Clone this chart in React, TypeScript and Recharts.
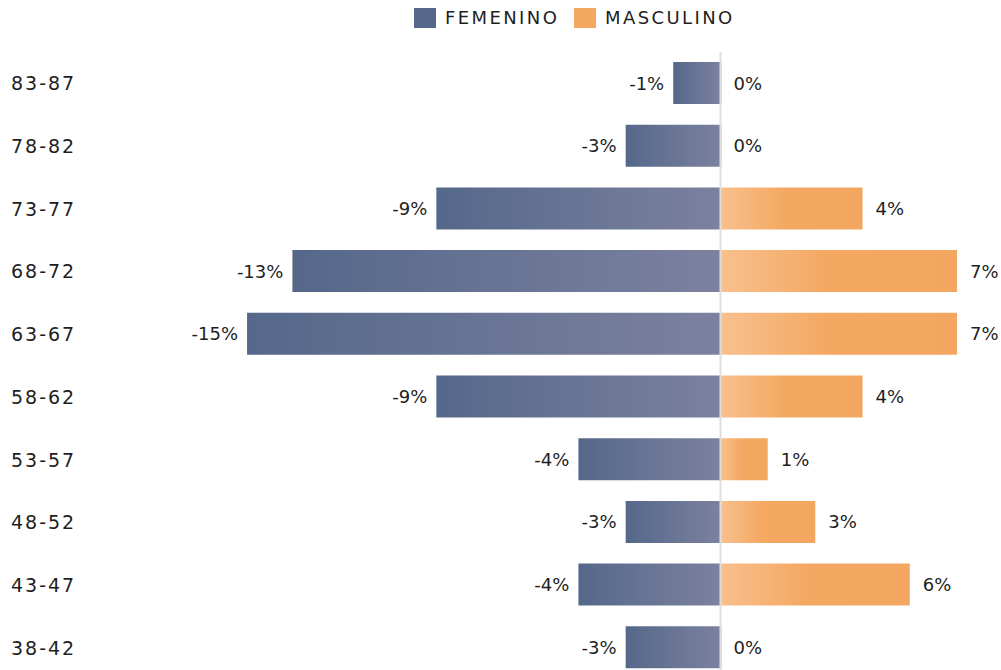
import { BarChart, Bar, XAxis, YAxis, ReferenceLine, LabelList } from "recharts";

// age bands, top to bottom
const AGES = ["83-87", "78-82", "73-77", "68-72", "63-67", "58-62", "53-57", "48-52", "43-47", "38-42"];
// share of total (%), women drawn to the left
const FEMENINO = [-1.49, -2.99, -8.96, -13.5, -14.93, -8.96, -4.48, -2.99, -4.48, -2.99];
const MASCULINO = [0, 0, 4.48, 7.46, 7.46, 4.48, 1.49, 2.99, 5.97, 0];
const SERIES = ["FEMENINO", "MASCULINO"];
const X_DOMAIN: [number, number] = [-19, 8.5];

const FONT = "'DejaVu Sans', sans-serif";
const INK = "#1e1e1e";

const data = AGES.map((age, i) => ({ age, f: FEMENINO[i], m: MASCULINO[i] }));

const fmt = (v: number) => `${Math.round(v) || 0}%`;

function AgeTick({ y, payload }: any) {
  return (
    <text x={11} y={y} textAnchor="start" dominantBaseline="central" fill={INK} fontSize={19} letterSpacing={2} fontFamily={FONT}>
      {payload.value}
    </text>
  );
}

function LeftLabel({ x, y, width, height, value }: any) {
  const left = Math.min(x, x + width);
  return (
    <text x={left - 9} y={y + height / 2} textAnchor="end" dominantBaseline="central" fill={INK} fontSize={18} fontFamily={FONT}>
      {fmt(value)}
    </text>
  );
}

function RightLabel({ x, y, width, height, value }: any) {
  // zero bars get a 1px minPointSize, so anchor their label on the axis
  const right = value ? Math.max(x, x + width) : Math.min(x, x + width);
  return (
    <text x={right + 13} y={y + height / 2} textAnchor="start" dominantBaseline="central" fill={INK} fontSize={18} fontFamily={FONT}>
      {fmt(value)}
    </text>
  );
}

function LegendItem({ left, color, label }: { left: number; color: string; label: string }) {
  return (
    <div style={{ position: "absolute", left, top: 7, display: "flex", alignItems: "center" }}>
      <span style={{ width: 22, height: 20, background: color, display: "inline-block" }} />
      <span style={{ marginLeft: 9, fontFamily: FONT, fontSize: 18, letterSpacing: 2.4, color: INK, lineHeight: "20px", paddingTop: 1 }}>{label}</span>
    </div>
  );
}

export default function App() {
  return (
    <div style={{ position: "absolute", left: 0, top: 0, width: 1001, height: 670, overflow: "hidden", background: "#fff" }}>
      <BarChart
        width={1001}
        height={680}
        data={data}
        layout="vertical"
        stackOffset="sign"
        margin={{ top: 52, right: 11, bottom: 1, left: 0 }}
      >
        <defs>
          <linearGradient id="gradF" x1="0" y1="0" x2="1" y2="0">
            <stop offset="0" stopColor="#55688a" />
            <stop offset="1" stopColor="#7c819f" />
          </linearGradient>
          <linearGradient id="gradM" x1="0" y1="0" x2="1" y2="0">
            <stop offset="0" stopColor="#f8c08d" />
            <stop offset="0.45" stopColor="#f4a862" />
            <stop offset="1" stopColor="#f3a660" />
          </linearGradient>
        </defs>
        <XAxis type="number" domain={X_DOMAIN} allowDataOverflow hide />
        <YAxis type="category" dataKey="age" width={118} axisLine={false} tickLine={false} tick={<AgeTick />} interval={0} />
        <Bar dataKey="f" name={SERIES[0]} stackId="a" fill="url(#gradF)" barSize={42} isAnimationActive={false}>
          <LabelList dataKey="f" content={<LeftLabel />} />
        </Bar>
        <Bar dataKey="m" name={SERIES[1]} stackId="a" fill="url(#gradM)" barSize={42} minPointSize={1} isAnimationActive={false}>
          <LabelList dataKey="m" content={<RightLabel />} />
        </Bar>
        <ReferenceLine x={0} stroke="#dedede" strokeWidth={2} />
      </BarChart>
      <LegendItem left={414} color="#55688a" label={SERIES[0]} />
      <LegendItem left={574} color="#f4a862" label={SERIES[1]} />
    </div>
  );
}
